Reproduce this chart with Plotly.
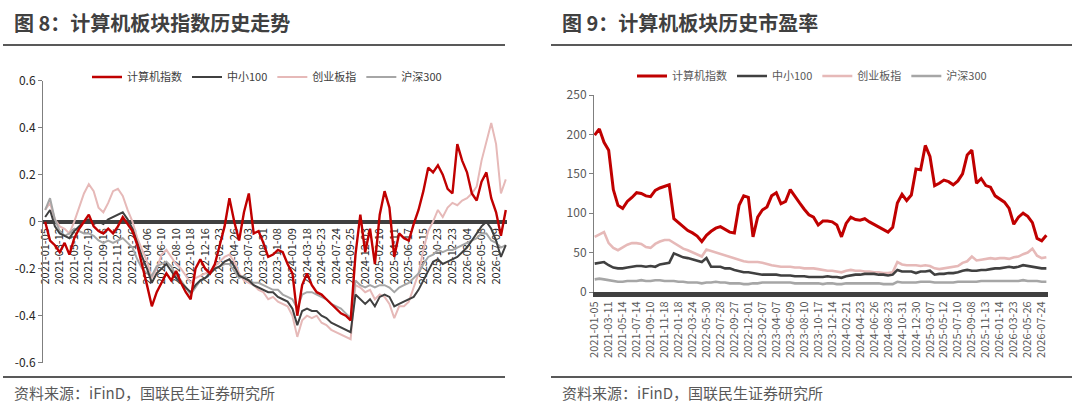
import numpy as np
import plotly.graph_objects as go

# ---- 图8 数据: 相对起点涨跌幅, 每个刻度区间取3个点 ----
idx_dates = ['2021-01-05', '2021-03-12', '2021-05-18', '2021-07-19', '2021-09-16', '2021-11-25',
             '2022-01-26', '2022-04-06', '2022-06-10', '2022-08-10', '2022-10-18', '2022-12-16',
             '2023-02-23', '2023-04-26', '2023-07-03', '2023-08-31', '2023-11-08', '2024-01-09',
             '2024-03-18', '2024-05-23', '2024-07-24', '2024-09-25', '2024-12-03', '2025-02-10',
             '2025-04-11', '2025-06-17', '2025-08-15', '2025-10-23', '2025-12-23', '2026-03-04',
             '2026-05-08', '2026-07-09']

idx_computer = [0.00, -0.08, -0.10, -0.13, -0.09, -0.14, -0.07, -0.03, 0.00, 0.03,
                -0.02, -0.04, -0.05, -0.03, -0.05, -0.02, 0.02, -0.01, -0.04, -0.10,
                -0.18, -0.27, -0.36, -0.30, -0.26, -0.22, -0.25, -0.21, -0.26, -0.30,
                -0.33, -0.20, -0.16, -0.20, -0.22, -0.18, -0.10, -0.02, 0.10, 0.00,
                -0.08, 0.04, 0.12, -0.05, -0.04, -0.09, -0.15, -0.14, -0.12, -0.13,
                -0.18, -0.22, -0.40, -0.27, -0.22, -0.27, -0.30, -0.31, -0.33, -0.35,
                -0.37, -0.39, -0.40, -0.42, -0.14, 0.03, -0.13, -0.03, -0.18, 0.03,
                0.13, 0.06, -0.15, -0.05, -0.07, -0.08, -0.01, 0.05, 0.13, 0.23,
                0.21, 0.24, 0.20, 0.14, 0.12, 0.33, 0.26, 0.21, 0.12, 0.09,
                0.17, 0.21, 0.10, 0.04, -0.06, 0.05]
idx_zx100 = [0.02, 0.05, -0.02, -0.05, -0.06, -0.07, -0.04, -0.02, 0.00, 0.01,
             -0.01, 0.00, -0.01, 0.01, 0.02, 0.03, 0.04, 0.01, -0.03, -0.09,
             -0.15, -0.20, -0.26, -0.22, -0.20, -0.18, -0.21, -0.24, -0.26, -0.28,
             -0.30, -0.27, -0.25, -0.24, -0.22, -0.20, -0.19, -0.17, -0.16, -0.19,
             -0.23, -0.24, -0.25, -0.27, -0.28, -0.29, -0.30, -0.30, -0.32, -0.33,
             -0.34, -0.37, -0.44, -0.38, -0.37, -0.38, -0.38, -0.40, -0.41, -0.43,
             -0.44, -0.45, -0.46, -0.47, -0.31, -0.33, -0.35, -0.33, -0.36, -0.32,
             -0.31, -0.32, -0.36, -0.35, -0.34, -0.33, -0.32, -0.29, -0.25, -0.21,
             -0.17, -0.16, -0.18, -0.17, -0.16, -0.15, -0.13, -0.11, -0.08, -0.05,
             -0.02, 0.00, -0.03, -0.08, -0.15, -0.10]
idx_cyb = [0.05, 0.08, 0.01, -0.02, -0.03, -0.05, 0.00, 0.06, 0.12, 0.16,
           0.13, 0.06, 0.04, 0.08, 0.13, 0.14, 0.11, 0.05, 0.00, -0.07,
           -0.12, -0.17, -0.24, -0.20, -0.14, -0.12, -0.15, -0.18, -0.20, -0.23,
           -0.26, -0.24, -0.23, -0.22, -0.21, -0.19, -0.17, -0.15, -0.14, -0.17,
           -0.22, -0.25, -0.26, -0.27, -0.29, -0.30, -0.33, -0.32, -0.34, -0.35,
           -0.36, -0.40, -0.49, -0.42, -0.40, -0.41, -0.40, -0.43, -0.44, -0.46,
           -0.47, -0.48, -0.49, -0.50, -0.27, -0.28, -0.30, -0.29, -0.33, -0.31,
           -0.32, -0.35, -0.41, -0.36, -0.36, -0.34, -0.28, -0.22, -0.12, -0.04,
           0.00, 0.05, 0.02, 0.06, 0.08, 0.07, 0.09, 0.10, 0.12, 0.15,
           0.26, 0.34, 0.42, 0.33, 0.12, 0.18]
idx_hs300 = [0.05, 0.10, 0.01, -0.04, -0.06, -0.05, -0.03, -0.04, -0.05, -0.05,
             -0.06, -0.08, -0.09, -0.08, -0.09, -0.08, -0.07, -0.09, -0.11, -0.16,
             -0.20, -0.22, -0.23, -0.19, -0.18, -0.17, -0.19, -0.23, -0.25, -0.28,
             -0.31, -0.28, -0.25, -0.24, -0.22, -0.20, -0.19, -0.18, -0.18, -0.21,
             -0.24, -0.23, -0.25, -0.26, -0.26, -0.27, -0.28, -0.29, -0.29, -0.31,
             -0.32, -0.33, -0.37, -0.31, -0.30, -0.30, -0.31, -0.32, -0.33, -0.35,
             -0.36, -0.37, -0.39, -0.41, -0.25, -0.27, -0.28, -0.27, -0.28, -0.27,
             -0.27, -0.28, -0.30, -0.28, -0.27, -0.26, -0.24, -0.22, -0.18, -0.15,
             -0.14, -0.12, -0.13, -0.12, -0.12, -0.11, -0.10, -0.09, -0.08, -0.07,
             -0.05, -0.05, -0.08, -0.09, -0.11, -0.10]

# ---- 图9 数据: 市盈率(TTM), 每个刻度区间取3个点 ----
pe_dates = ['2021-01-05', '2021-03-11', '2021-05-14', '2021-07-14', '2021-09-10', '2021-11-18',
            '2022-01-18', '2022-03-24', '2022-05-30', '2022-07-28', '2022-09-27', '2022-12-01',
            '2023-02-07', '2023-04-07', '2023-06-09', '2023-08-10', '2023-10-17', '2023-12-14',
            '2024-02-21', '2024-04-23', '2024-06-26', '2024-08-23', '2024-10-31', '2024-12-30',
            '2025-03-07', '2025-05-12', '2025-07-10', '2025-09-08', '2025-11-13', '2026-01-14',
            '2026-03-23', '2026-05-26', '2026-07-24']

pe_computer = [199, 207, 190, 180, 130, 110, 106, 115, 120, 126,
               125, 122, 121, 129, 132, 134, 136, 93, 88, 83,
               78, 75, 71, 64, 72, 77, 81, 83, 80, 76,
               75, 110, 122, 120, 70, 95, 104, 108, 122, 126,
               112, 115, 130, 121, 113, 105, 98, 95, 85, 90,
               90, 89, 85, 70, 87, 95, 92, 91, 93, 89,
               86, 82, 79, 76, 82, 113, 124, 116, 123, 156,
               155, 186, 172, 135, 138, 142, 140, 136, 141, 150,
               174, 180, 138, 144, 135, 133, 122, 118, 114, 106,
               86, 95, 100, 96, 88, 68, 65, 72]
pe_zx100 = [36, 37, 38, 34, 31, 30, 30, 31, 32, 33,
            33, 32, 33, 32, 35, 36, 37, 49, 46, 44,
            43, 41, 39, 38, 43, 32, 32, 32, 30, 30,
            28, 26, 25, 25, 24, 23, 22, 22, 22, 22,
            21, 21, 21, 20, 20, 20, 19, 19, 19, 19,
            20, 19, 19, 18, 20, 21, 22, 22, 23, 23,
            23, 22, 22, 21, 22, 28, 26, 26, 26, 24,
            26, 26, 27, 22, 23, 23, 24, 24, 25, 27,
            28, 27, 27, 28, 28, 29, 30, 30, 31, 32,
            31, 32, 34, 33, 32, 31, 30, 30]
pe_cyb = [70, 73, 76, 62, 56, 53, 57, 60, 62, 62,
          61, 57, 56, 61, 64, 66, 66, 62, 58, 55,
          53, 50, 48, 45, 54, 52, 50, 48, 47, 45,
          43, 41, 39, 38, 38, 38, 37, 35, 34, 33,
          32, 32, 32, 31, 31, 30, 30, 30, 29, 28,
          27, 27, 26, 25, 27, 28, 27, 27, 26, 26,
          25, 25, 24, 24, 25, 38, 35, 34, 34, 34,
          33, 34, 33, 30, 29, 30, 31, 32, 33, 37,
          39, 45, 40, 41, 42, 43, 42, 43, 43, 42,
          44, 45, 48, 50, 55, 46, 43, 44]
pe_hs300 = [16, 17, 16, 15, 14, 13, 13, 14, 14, 14,
            15, 14, 14, 15, 15, 14, 14, 14, 13, 13,
            12, 12, 12, 11, 12, 12, 13, 12, 12, 11,
            11, 11, 10, 10, 11, 11, 12, 12, 12, 12,
            12, 12, 12, 11, 11, 11, 11, 11, 11, 10,
            11, 11, 10, 10, 11, 11, 11, 11, 11, 11,
            11, 11, 10, 10, 10, 13, 12, 12, 12, 12,
            13, 13, 13, 12, 12, 12, 12, 12, 13, 13,
            13, 13, 13, 14, 14, 14, 14, 14, 14, 14,
            14, 14, 15, 14, 14, 14, 13, 13]

left_yticks = [0.6, 0.4, 0.2, 0, -0.2, -0.4, -0.6]
left_yticktext = ['0.6', '0.4', '0.2', '0', '-0.2', '-0.4', '-0.6']

RED = '#C00000'
DARK = '#404040'
PINK = '#E6B9B8'
GRAY = '#A6A6A6'
FONT = 'Noto Sans CJK SC'
W, H = 1080, 408

# 每个刻度之间3个样本, 横坐标以刻度间隔为单位
x_idx = np.arange(len(idx_computer)) / 3
x_pe = np.arange(len(pe_computer)) / 3

series = [
    ('计算机指数', RED, idx_computer, pe_computer, 2.4, 3.0, 1),
    ('中小100', DARK, idx_zx100, pe_zx100, 2.0, 2.6, 2),
    ('创业板指', PINK, idx_cyb, pe_cyb, 2.0, 2.6, 3),
    ('沪深300', GRAY, idx_hs300, pe_hs300, 2.0, 2.6, 4),
]
# 绘制顺序: 浅色在下, 红色在上
draw_order = [2, 3, 1, 0]

fig = go.Figure()
for i in draw_order:
    name, color, left_vals, right_vals, lw, rw, rank = series[i]
    fig.add_trace(go.Scatter(x=x_idx, y=left_vals, mode='lines', name=name,
                             line=dict(color=color, width=lw),
                             xaxis='x', yaxis='y', legend='legend', legendrank=rank))
    fig.add_trace(go.Scatter(x=x_pe, y=right_vals, mode='lines', name=name,
                             line=dict(color=color, width=rw),
                             xaxis='x2', yaxis='y2', legend='legend2', legendrank=rank))

left_dom_y = [1 - 362.7 / H, 1 - 80.7 / H]
right_dom_y = [1 - 292 / H, 1 - 95 / H]

fig.update_layout(
    width=W, height=H,
    margin=dict(l=0, r=0, t=0, b=0),
    paper_bgcolor='white', plot_bgcolor='white',
    font=dict(family=FONT, color=DARK),
    showlegend=True,
    xaxis=dict(domain=[43 / W, 507 / W], range=[-0.15, 31.75], automargin=False,
               anchor='free', position=sum(left_dom_y) / 2,
               showline=True, linecolor=DARK, linewidth=4, layer='below traces',
               tickmode='array', tickvals=list(range(len(idx_dates))), ticktext=idx_dates,
               tickangle=-90, ticks='', showgrid=False, zeroline=False,
               tickfont=dict(size=11, color='#262626')),
    yaxis=dict(domain=left_dom_y, range=[-0.6, 0.6], anchor='x', automargin=False,
               tickmode='array', tickvals=left_yticks, ticktext=left_yticktext,
               showline=True, linecolor='#7F7F7F', linewidth=1,
               ticks='outside', ticklen=4, tickcolor='#7F7F7F',
               showgrid=False, zeroline=False,
               tickfont=dict(size=12, color='#262626')),
    xaxis2=dict(domain=[594 / W, 1048 / W], range=[-0.05, 32.45], anchor='y2', automargin=False,
                showline=True, linecolor=DARK, linewidth=5, layer='below traces',
                tickmode='array', tickvals=list(range(len(pe_dates))), ticktext=pe_dates,
                tickangle=-90, ticks='', showgrid=False, zeroline=False,
                tickfont=dict(size=11, color='#595959')),
    yaxis2=dict(domain=right_dom_y, range=[0, 250], dtick=50, anchor='x2', automargin=False,
                showline=True, linecolor='#7F7F7F', linewidth=1,
                ticks='outside', ticklen=4, tickcolor='#7F7F7F',
                showgrid=False, zeroline=False,
                tickfont=dict(size=12, color='#595959')),
    legend=dict(orientation='h', x=267 / W, y=1 - 77 / H, xanchor='center', yanchor='middle',
                font=dict(size=11, color=DARK), itemwidth=30, bgcolor='rgba(0,0,0,0)'),
    legend2=dict(orientation='h', x=812 / W, y=1 - 76 / H, xanchor='center', yanchor='middle',
                 font=dict(size=11, color='#595959'), itemwidth=30, bgcolor='rgba(0,0,0,0)'),
)

# 标题、分隔线、资料来源
for x0, x1, title in [(3, 505, '图 8：计算机板块指数历史走势'),
                      (551, 1072, '图 9：计算机板块历史市盈率')]:
    fig.add_annotation(text='<b>' + title + '</b>', xref='paper', yref='paper',
                       x=(x0 + 9) / W, y=1 - 22 / H, xanchor='left', yanchor='middle',
                       showarrow=False, font=dict(size=20, color='#404040', family=FONT))
    fig.add_annotation(text='资料来源：iFinD，国联民生证券研究所', xref='paper', yref='paper',
                       x=(x0 + 9) / W, y=1 - 392 / H, xanchor='left', yanchor='middle',
                       showarrow=False, font=dict(size=15, color='#595959', family=FONT))
    for yy in (45, 377):
        fig.add_shape(type='line', xref='paper', yref='paper',
                      x0=x0 / W, x1=x1 / W, y0=1 - yy / H, y1=1 - yy / H,
                      line=dict(color='#595959', width=2))

# 页面默认 8px 边距会把图推出窗口, 去掉它; 不显示工具栏
fig.write_html('out.html', config={'displayModeBar': False},
               post_script="document.body.style.margin='0';document.body.style.overflow='hidden';")
